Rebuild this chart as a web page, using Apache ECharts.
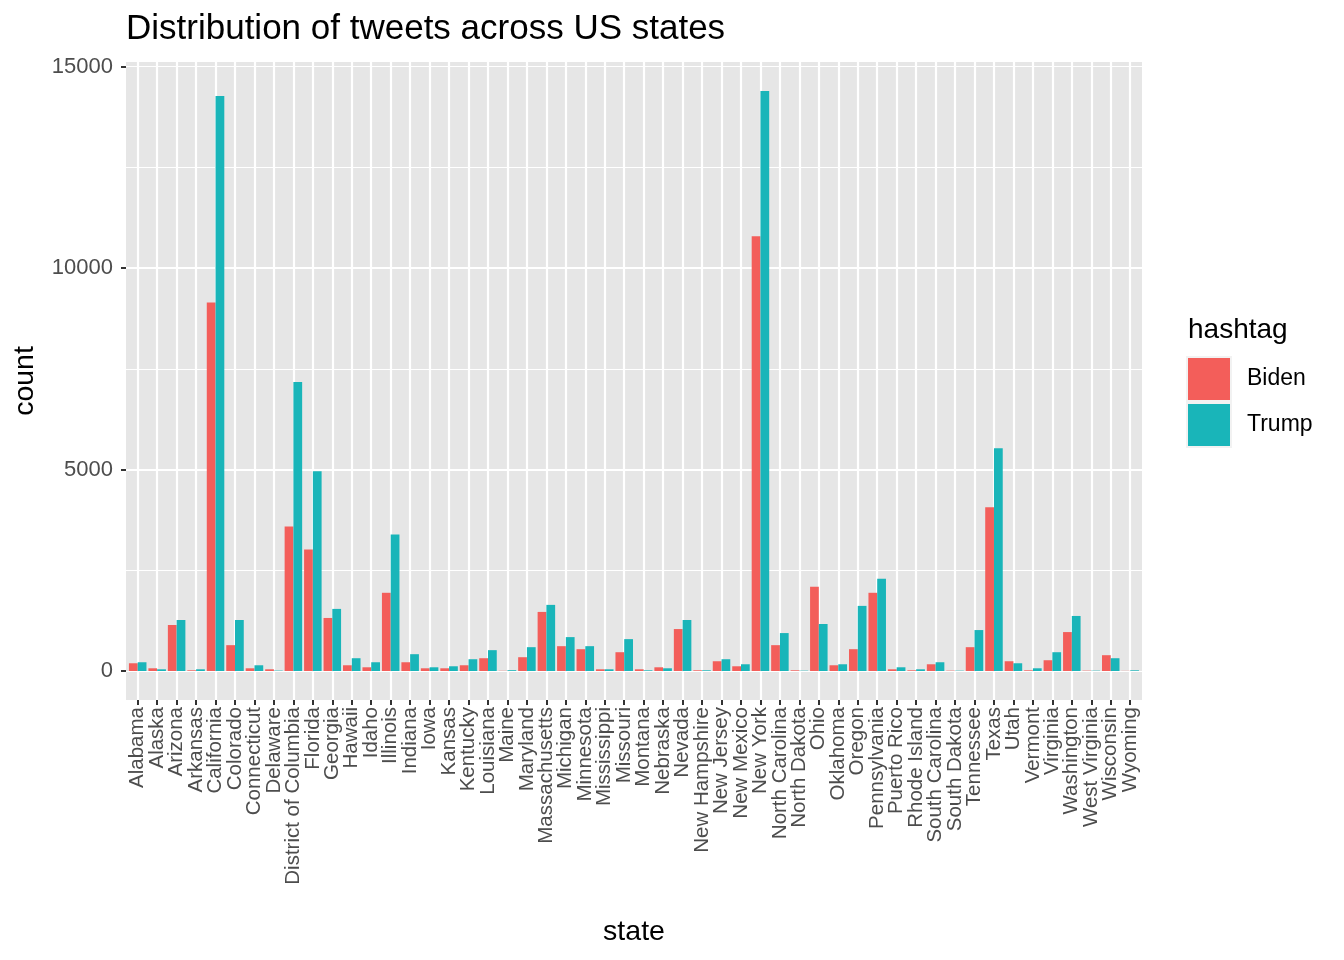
<!DOCTYPE html>
<html>
<head>
<meta charset="utf-8">
<script src="https://cdn.jsdelivr.net/npm/echarts@6/dist/echarts.min.js"></script>
<style>
  html, body { margin: 0; padding: 0; background: #ffffff; }
  #chart { width: 1344px; height: 960px; }
</style>
</head>
<body>
<div id="chart"></div>
<script>
const states = ["Alabama","Alaska","Arizona","Arkansas","California","Colorado","Connecticut","Delaware","District of Columbia","Florida","Georgia","Hawaii","Idaho","Illinois","Indiana","Iowa","Kansas","Kentucky","Louisiana","Maine","Maryland","Massachusetts","Michigan","Minnesota","Mississippi","Missouri","Montana","Nebraska","Nevada","New Hampshire","New Jersey","New Mexico","New York","North Carolina","North Dakota","Ohio","Oklahoma","Oregon","Pennsylvania","Puerto Rico","Rhode Island","South Carolina","South Dakota","Tennessee","Texas","Utah","Vermont","Virginia","Washington","West Virginia","Wisconsin","Wyoming"];

const biden = [192, 67, 1141, 17, 9146, 641, 67, 42, 3588, 3015, 1316, 142, 92, 1941, 217, 67, 67, 142, 317, 5, 342, 1466, 616, 541, 42, 466, 42, 92, 1041, 17, 242, 117, 10789, 641, 17, 2091, 142, 541, 1941, 42, 17, 167, 8, 591, 4061, 242, 17, 267, 966, 8, 392, 3];

const trump = [217, 42, 1266, 42, 14270, 1266, 142, 10, 7174, 4958, 1541, 317, 217, 3389, 417, 92, 117, 292, 517, 20, 591, 1641, 841, 616, 42, 791, 17, 67, 1266, 17, 292, 167, 14395, 941, 8, 1166, 167, 1616, 2291, 92, 42, 217, 8, 1016, 5530, 192, 67, 466, 1366, 8, 317, 17];

const yTicks = [0, 5000, 10000, 15000];
const seriesNames = ["Biden", "Trump"];
const colors = ["#F35E5A", "#19B5B9"];

const Y_MIN = -720, Y_MAX = 15115;
const FONT = '"Liberation Sans", Arial, Helvetica, sans-serif';

const chart = echarts.init(document.getElementById('chart'), null, { renderer: 'canvas' });

const option = {
  backgroundColor: '#ffffff',
  animation: false,
  textStyle: { fontFamily: FONT },
  grid: [
    { left: 126, right: 202, top: 62, bottom: 260, show: true, backgroundColor: '#E6E6E6', borderWidth: 0, containLabel: false },
    { left: 137.7, right: 213.8, top: 62, bottom: 260, show: false, containLabel: false }
  ],
  xAxis: [
    { type: 'value', gridIndex: 0, show: false, min: 0, max: 1 },
    {
      type: 'category', gridIndex: 1, data: states, boundaryGap: false,
      axisLine: { show: false, onZero: false },
      axisTick: { show: true, length: 5, interval: 0, lineStyle: { color: '#333333', width: 2 } },
      axisLabel: { interval: 0, rotate: 90, fontSize: 20.5, color: '#4D4D4D', margin: 7, fontFamily: FONT },
      splitLine: { show: true, interval: 0, lineStyle: { color: '#ffffff', width: 2.2 } }
    }
  ],
  yAxis: [
    {
      type: 'value', gridIndex: 0, min: Y_MIN, max: Y_MAX, minInterval: 5000, maxInterval: 5000,
      axisLine: { show: false, onZero: false },
      axisTick: { show: true, length: 5, customValues: yTicks, lineStyle: { color: '#333333', width: 2 } },
      axisLabel: { fontSize: 22, color: '#4D4D4D', margin: 13, customValues: yTicks, fontFamily: FONT, formatter: function (v) { return String(v); } },
      splitLine: { show: true, showMinLine: false, showMaxLine: false, lineStyle: { color: '#ffffff', width: 2.2 } }
    },
    {
      type: 'value', gridIndex: 0, min: Y_MIN, max: Y_MAX, minInterval: 2500, maxInterval: 2500,
      axisLine: { show: false }, axisTick: { show: false }, axisLabel: { show: false },
      splitLine: { show: true, showMinLine: false, showMaxLine: false, lineStyle: { color: '#ffffff', width: 1.1 } }
    },
    {
      type: 'value', gridIndex: 1, min: Y_MIN, max: Y_MAX, show: false,
      splitLine: { show: false }
    }
  ],
  legend: {
    data: seriesNames,
    orient: 'vertical',
    left: 1188, top: 358,
    itemWidth: 42, itemHeight: 42, itemGap: 4,
    icon: 'rect',
    padding: 0,
    textStyle: { fontSize: 23, color: '#000000', padding: [9, 0, 0, 12], fontFamily: FONT }
  },
  series: [
    {
      name: seriesNames[0], type: 'bar', xAxisIndex: 1, yAxisIndex: 2,
      data: biden, barWidth: 8.76, barGap: '0%', clip: false,
      itemStyle: { color: colors[0] }
    },
    {
      name: seriesNames[1], type: 'bar', xAxisIndex: 1, yAxisIndex: 2,
      data: trump, barWidth: 8.76, barGap: '0%', clip: false,
      itemStyle: { color: colors[1] }
    }
  ],
  graphic: [
    { type: 'rect', z: -1, shape: { x: 1186, y: 356, width: 46, height: 92 }, style: { fill: '#F2F2F2' } },
    { type: 'text', style: { text: 'Distribution of tweets across US states', x: 126, y: 29, font: '35px ' + FONT, fill: '#000000', verticalAlign: 'middle', textAlign: 'left' } },
    { type: 'text', style: { text: 'count', x: 0, y: 0, font: '28.5px ' + FONT, fill: '#000000', verticalAlign: 'middle', textAlign: 'center' }, x: 25, y: 381, rotation: Math.PI / 2 },
    { type: 'text', style: { text: 'state', x: 634, y: 932, font: '28.5px ' + FONT, fill: '#000000', verticalAlign: 'middle', textAlign: 'center' } },
    { type: 'text', style: { text: 'hashtag', x: 1188, y: 330, font: '28px ' + FONT, fill: '#000000', verticalAlign: 'middle', textAlign: 'left' } }
  ]
};

chart.setOption(option);
</script>
</body>
</html>
